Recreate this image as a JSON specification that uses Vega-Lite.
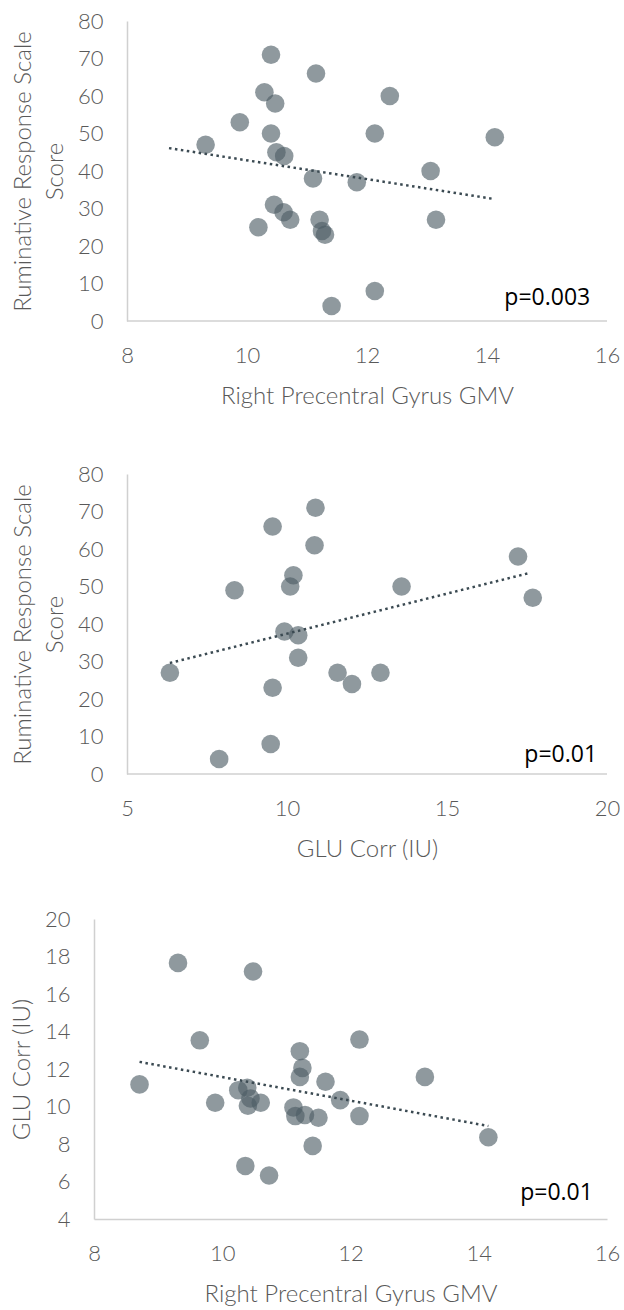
{
  "$schema": "https://vega.github.io/schema/vega-lite/v6.json",
  "padding": {"left": 10, "top": 10, "right": 0, "bottom": 0},
  "background": "white",
  "config": {
    "view": {"stroke": null},
    "font": "Lato",
    "axis": {
      "grid": false,
      "ticks": false,
      "domainColor": "#d0d0d0",
      "domainWidth": 1.5,
      "labelColor": "#595959",
      "labelFont": "Lato",
      "labelFontWeight": 300,
      "labelFontSize": 22,
      "labelPadding": 24,
      "titleColor": "#595959",
      "titleFont": "Lato",
      "titleFontWeight": 300,
      "titleFontSize": 24,
      "titleLineHeight": 32,
      "titlePadding": 10,
      "labelOverlap": false,
      "labelFlush": false
    },
    "axisY": {"labelOverlap": false, "labelBound": false},
    "axisQuantitative": {"labelOverlap": false}
  },
  "datasets": {
    "p1": [
      {"x": 10.4, "y": 71}, {"x": 11.15, "y": 66}, {"x": 10.29, "y": 61}, {"x": 10.47, "y": 58},
      {"x": 12.38, "y": 60}, {"x": 9.88, "y": 53}, {"x": 10.4, "y": 50}, {"x": 12.13, "y": 50},
      {"x": 14.13, "y": 49}, {"x": 9.31, "y": 47}, {"x": 10.49, "y": 45}, {"x": 10.62, "y": 44},
      {"x": 11.1, "y": 38}, {"x": 11.83, "y": 37}, {"x": 13.06, "y": 40}, {"x": 10.45, "y": 31},
      {"x": 10.61, "y": 29}, {"x": 10.72, "y": 27}, {"x": 11.21, "y": 27}, {"x": 10.19, "y": 25},
      {"x": 11.25, "y": 24}, {"x": 11.3, "y": 23}, {"x": 13.15, "y": 27}, {"x": 12.13, "y": 8},
      {"x": 11.41, "y": 4}
    ],
    "t1": [{"x": 8.7, "y": 46.1}, {"x": 14.09, "y": 32.6}],
    "l1": [{"x": 15.72, "y": 6.1, "label": "p=0.003"}],
    "a1": [{"x": 8, "x2": 16, "y": 0}],
    "p2": [
      {"x": 10.89, "y": 71}, {"x": 9.55, "y": 66}, {"x": 10.86, "y": 61}, {"x": 17.22, "y": 58},
      {"x": 10.2, "y": 53}, {"x": 10.1, "y": 50}, {"x": 8.36, "y": 49}, {"x": 13.58, "y": 50},
      {"x": 17.68, "y": 47}, {"x": 9.92, "y": 38}, {"x": 10.35, "y": 37}, {"x": 10.35, "y": 31},
      {"x": 6.34, "y": 27}, {"x": 11.58, "y": 27}, {"x": 12.92, "y": 27}, {"x": 12.03, "y": 24},
      {"x": 9.55, "y": 23}, {"x": 9.49, "y": 8}, {"x": 7.88, "y": 4}
    ],
    "t2": [{"x": 6.34, "y": 29.6}, {"x": 17.53, "y": 53.5}],
    "l2": [{"x": 19.69, "y": 5, "label": "p=0.01"}],
    "a2": [{"x": 5, "x2": 20, "y": 0}],
    "p3": [
      {"x": 9.31, "y": 17.66}, {"x": 10.48, "y": 17.2}, {"x": 9.65, "y": 13.53}, {"x": 12.14, "y": 13.57},
      {"x": 11.21, "y": 12.95}, {"x": 11.25, "y": 12.06}, {"x": 11.21, "y": 11.58}, {"x": 11.61, "y": 11.32},
      {"x": 13.16, "y": 11.58}, {"x": 8.71, "y": 11.18}, {"x": 10.25, "y": 10.87}, {"x": 10.39, "y": 11.0},
      {"x": 10.44, "y": 10.43}, {"x": 9.89, "y": 10.2}, {"x": 10.4, "y": 10.04}, {"x": 10.6, "y": 10.2},
      {"x": 11.84, "y": 10.34}, {"x": 11.11, "y": 9.95}, {"x": 11.14, "y": 9.49}, {"x": 11.29, "y": 9.55},
      {"x": 11.5, "y": 9.4}, {"x": 12.14, "y": 9.49}, {"x": 14.15, "y": 8.36}, {"x": 11.41, "y": 7.9},
      {"x": 10.36, "y": 6.83}, {"x": 10.73, "y": 6.32}
    ],
    "t3": [{"x": 8.71, "y": 12.38}, {"x": 14.15, "y": 8.96}],
    "l3": [{"x": 15.78, "y": 5.4, "label": "p=0.01"}]
  },
  "columns": 1,
  "spacing": 47,
  "concat": [
    {
      "width": 513,
      "height": 300,
      "layer": [
        {
          "data": {"name": "a1"},
          "mark": {"type": "rule", "color": "#d0d0d0", "strokeWidth": 1.5},
          "encoding": {
            "x": {"field": "x", "type": "quantitative", "scale": {"domain": [7.45, 16], "nice": false, "zero": false},
                  "axis": {"title": "Right Precentral Gyrus GMV", "values": [8, 10, 12, 14, 16], "format": "d", "domain": false, "labelOverlap": false, "titlePadding": 18, "titleX": 273}},
            "x2": {"field": "x2"},
            "y": {"field": "y", "type": "quantitative", "scale": {"domain": [0, 80], "nice": false},
                  "axis": {"title": ["Ruminative Response Scale", "Score"], "values": [0, 10, 20, 30, 40, 50, 60, 70, 80], "tickCount": 9, "format": "d", "offset": -33, "labelOverlap": false}}
          }
        },
        {
          "data": {"name": "p1"},
          "mark": {"type": "circle", "size": 346, "color": "#4d5d66", "opacity": 0.63},
          "encoding": {"x": {"field": "x", "type": "quantitative"}, "y": {"field": "y", "type": "quantitative"}}
        },
        {
          "data": {"name": "t1"},
          "mark": {"type": "line", "color": "#3b4a52", "strokeWidth": 2.5, "strokeDash": [2.5, 3.5]},
          "encoding": {"x": {"field": "x", "type": "quantitative"}, "y": {"field": "y", "type": "quantitative"}}
        },
        {
          "data": {"name": "l1"},
          "mark": {"type": "text", "align": "right", "baseline": "middle", "font": "Open Sans", "fontWeight": 400, "fontSize": 23, "color": "#000000"},
          "encoding": {"x": {"field": "x", "type": "quantitative"}, "y": {"field": "y", "type": "quantitative"}, "text": {"field": "label"}}
        }
      ]
    },
    {
      "width": 513,
      "height": 300,
      "title": {"text": " ", "fontSize": 8, "offset": 0},
      "layer": [
        {
          "data": {"name": "a2"},
          "mark": {"type": "rule", "color": "#d0d0d0", "strokeWidth": 1.5},
          "encoding": {
            "x": {"field": "x", "type": "quantitative", "scale": {"domain": [3.96875, 20], "nice": false, "zero": false},
                  "axis": {"title": "GLU Corr (IU)", "values": [5, 10, 15, 20], "format": "d", "domain": false, "labelOverlap": false, "titlePadding": 18, "titleX": 273}},
            "x2": {"field": "x2"},
            "y": {"field": "y", "type": "quantitative", "scale": {"domain": [0, 80], "nice": false},
                  "axis": {"title": ["Ruminative Response Scale", "Score"], "values": [0, 10, 20, 30, 40, 50, 60, 70, 80], "tickCount": 9, "format": "d", "offset": -33, "labelOverlap": false}}
          }
        },
        {
          "data": {"name": "p2"},
          "mark": {"type": "circle", "size": 346, "color": "#4d5d66", "opacity": 0.63},
          "encoding": {"x": {"field": "x", "type": "quantitative"}, "y": {"field": "y", "type": "quantitative"}}
        },
        {
          "data": {"name": "t2"},
          "mark": {"type": "line", "color": "#3b4a52", "strokeWidth": 2.5, "strokeDash": [2.5, 3.5]},
          "encoding": {"x": {"field": "x", "type": "quantitative"}, "y": {"field": "y", "type": "quantitative"}}
        },
        {
          "data": {"name": "l2"},
          "mark": {"type": "text", "align": "right", "baseline": "middle", "font": "Open Sans", "fontWeight": 400, "fontSize": 23, "color": "#000000"},
          "encoding": {"x": {"field": "x", "type": "quantitative"}, "y": {"field": "y", "type": "quantitative"}, "text": {"field": "label"}}
        }
      ]
    },
    {
      "width": 513,
      "height": 300,
      "layer": [
        {
          "data": {"name": "p3"},
          "mark": {"type": "circle", "size": 346, "color": "#4d5d66", "opacity": 0.63},
          "encoding": {
            "x": {"field": "x", "type": "quantitative", "scale": {"domain": [8, 16], "nice": false, "zero": false},
                  "axis": {"title": "Right Precentral Gyrus GMV", "values": [8, 10, 12, 14, 16], "format": "d", "labelOverlap": false, "titlePadding": 18}},
            "y": {"field": "y", "type": "quantitative", "scale": {"domain": [4, 20], "nice": false, "zero": false},
                  "axis": {"title": "GLU Corr (IU)", "values": [4, 6, 8, 10, 12, 14, 16, 18, 20], "tickCount": 9, "format": "d", "labelOverlap": false}}
          }
        },
        {
          "data": {"name": "t3"},
          "mark": {"type": "line", "color": "#3b4a52", "strokeWidth": 2.5, "strokeDash": [2.5, 3.5]},
          "encoding": {"x": {"field": "x", "type": "quantitative"}, "y": {"field": "y", "type": "quantitative"}}
        },
        {
          "data": {"name": "l3"},
          "mark": {"type": "text", "align": "right", "baseline": "middle", "font": "Open Sans", "fontWeight": 400, "fontSize": 23, "color": "#000000"},
          "encoding": {"x": {"field": "x", "type": "quantitative"}, "y": {"field": "y", "type": "quantitative"}, "text": {"field": "label"}}
        }
      ]
    }
  ]
}
